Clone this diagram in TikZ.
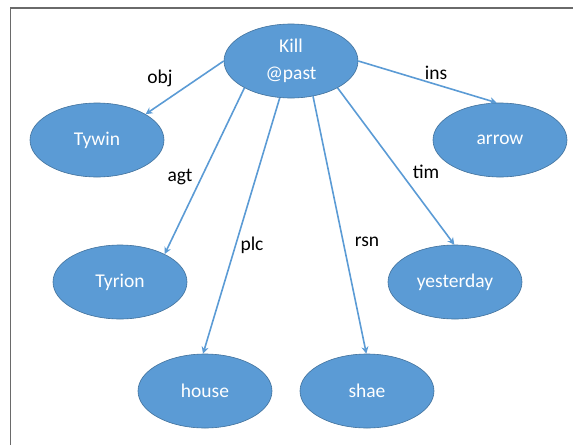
\documentclass[tikz,border=0pt]{standalone}
\usepackage{fontspec}
\setmainfont{Carlito}
\usepackage{xcolor}
\usetikzlibrary{arrows, arrows.meta}
\usetikzlibrary{shapes.geometric}

\definecolor{nodeblue}{HTML}{5B9BD5}
\definecolor{nodeedge}{HTML}{41719C}
\definecolor{framegray}{HTML}{6A6A6A}

\tikzset{
  concept/.style={ellipse, draw=nodeedge, line width=0.6pt, fill=nodeblue, text=white,
    inner sep=0pt, minimum width=134pt, minimum height=74pt, align=center,
    font=\fontsize{19.5}{27}\selectfont},
  rel/.style={draw=nodeblue, line width=1.6pt, -{Stealth[length=7pt, width=7pt]}},
  rellabel/.style={font=\fontsize{19.5}{22}\selectfont, text=black, inner sep=0pt},
  frameline/.style={draw=framegray, line width=1.4pt}
}

\begin{document}
\begin{tikzpicture}[x=1pt, y=-1pt]
      \useasboundingbox (0,0) rectangle (573,445);
      \draw[frameline] (10.5,445) -- (10.5,8) -- (573,8);

      \node[concept] (kill) at (291,61) {Kill\\@past};
      \node[concept] (tywin) at (97,140) {Tywin};
      \node[concept] (arrow) at (500,140) {arrow};
      \node[concept] (tyrion) at (120,282) {Tyrion};
      \node[concept] (yesterday) at (455,282) {yesterday};
      \node[concept] (house) at (205,391) {house};
      \node[concept] (shae) at (367,391) {shae};

      \node[rellabel] (obj) at (160,78) {obj};
      \node[rellabel] (ins) at (436,73) {ins};
      \node[rellabel] (agt) at (180,177) {agt};
      \node[rellabel] (tim) at (426,172) {tim};
      \node[rellabel] (plc) at (252,245) {plc};
      \node[rellabel] (rsn) at (367,242) {rsn};

      \draw[rel] (kill.180) -- (tywin.28);
      \draw[rel] (kill.0) -- (arrow.95);
      \draw[rel] (kill.210) -- (tyrion.32);
      \draw[rel] (kill.253) -- (house.93);
      \draw[rel] (kill.302) -- (shae.91);
      \draw[rel] (kill.330) -- (yesterday.91);
    \end{tikzpicture}
\end{document}
